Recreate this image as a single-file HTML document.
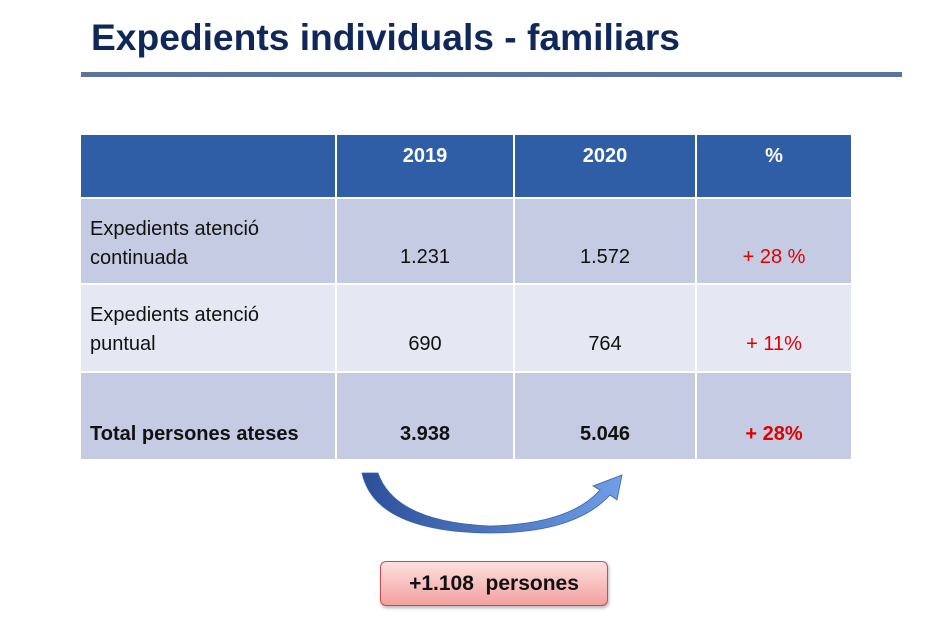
<!DOCTYPE html>
<html><head><meta charset="utf-8"><style>
body{margin:0;width:940px;height:619px;background:#fff;position:relative;overflow:hidden;font-family:"Liberation Sans","DejaVu Sans",sans-serif}
.t{position:absolute;left:91px;top:16px;font-size:37.2px;font-weight:bold;color:#10275a;white-space:nowrap}
.rule{position:absolute;left:81px;top:72px;width:821px;height:5px;background:#5a7599}
.c{position:absolute;box-sizing:border-box;font-size:20px;color:#111;white-space:nowrap}
.h{background:#2f5ea6;color:#fff;font-weight:bold;text-align:center;line-height:20px;padding-top:11px}
.a{background:#c4cbe3}.b2{background:#e5e8f3}
.n{text-align:center}
.red{color:#e00000}
.bd{font-weight:bold}
.box{position:absolute;left:380px;top:561px;width:226px;height:43px;border:1px solid #c05050;border-radius:6px;background:linear-gradient(#fde0e0,#f3a0a0);box-shadow:1px 2px 3px rgba(0,0,0,.3);text-align:center;line-height:43px;font-size:21px;font-weight:bold;color:#111}
</style></head><body>
<div class="t">Expedients individuals - familiars</div>
<div class="rule"></div>

<div class="c h" style="left:81px;top:135px;width:254px;height:62px"></div>
<div class="c h" style="left:337px;top:135px;width:176px;height:62px">2019</div>
<div class="c h" style="left:515px;top:135px;width:180px;height:62px">2020</div>
<div class="c h" style="left:697px;top:135px;width:154px;height:62px">%</div>

<div class="c a" style="left:81px;top:199px;width:254px;height:84px;padding:16px 0 0 9px;line-height:29px">Expedients atenció<br>continuada</div>
<div class="c a n" style="left:337px;top:199px;width:176px;height:84px;padding-top:47px">1.231</div>
<div class="c a n" style="left:515px;top:199px;width:180px;height:84px;padding-top:47px">1.572</div>
<div class="c a n red" style="left:697px;top:199px;width:154px;height:84px;padding-top:47px">+ 28 %</div>

<div class="c b2" style="left:81px;top:285px;width:254px;height:86px;padding:16px 0 0 9px;line-height:29px">Expedients atenció<br>puntual</div>
<div class="c b2 n" style="left:337px;top:285px;width:176px;height:86px;padding-top:48px">690</div>
<div class="c b2 n" style="left:515px;top:285px;width:180px;height:86px;padding-top:48px">764</div>
<div class="c b2 n red" style="left:697px;top:285px;width:154px;height:86px;padding-top:48px">+ 11%</div>

<div class="c a bd" style="left:81px;top:373px;width:254px;height:86px;padding:50px 0 0 9px">Total persones ateses</div>
<div class="c a n bd" style="left:337px;top:373px;width:176px;height:86px;padding-top:50px">3.938</div>
<div class="c a n bd" style="left:515px;top:373px;width:180px;height:86px;padding-top:50px">5.046</div>
<div class="c a n bd red" style="left:697px;top:373px;width:154px;height:86px;padding-top:50px">+ 28%</div>

<svg style="position:absolute;left:0;top:0" width="940" height="619">
<defs><linearGradient id="g" x1="0" x2="1"><stop offset="0" stop-color="#2c4f9a"/><stop offset="1" stop-color="#6f9fe6"/></linearGradient></defs>
<path d="M362,473 L378,473 Q395,522 490,526 Q570,524 600,490 L593,486 L622,475 L617,500 L610,495 Q575,533 490,533 Q375,532 362,473 Z" fill="url(#g)" stroke="#3a62a8" stroke-width="0.8"/>
</svg>
<div class="box">+1.108&nbsp; persones</div>
</body></html>
